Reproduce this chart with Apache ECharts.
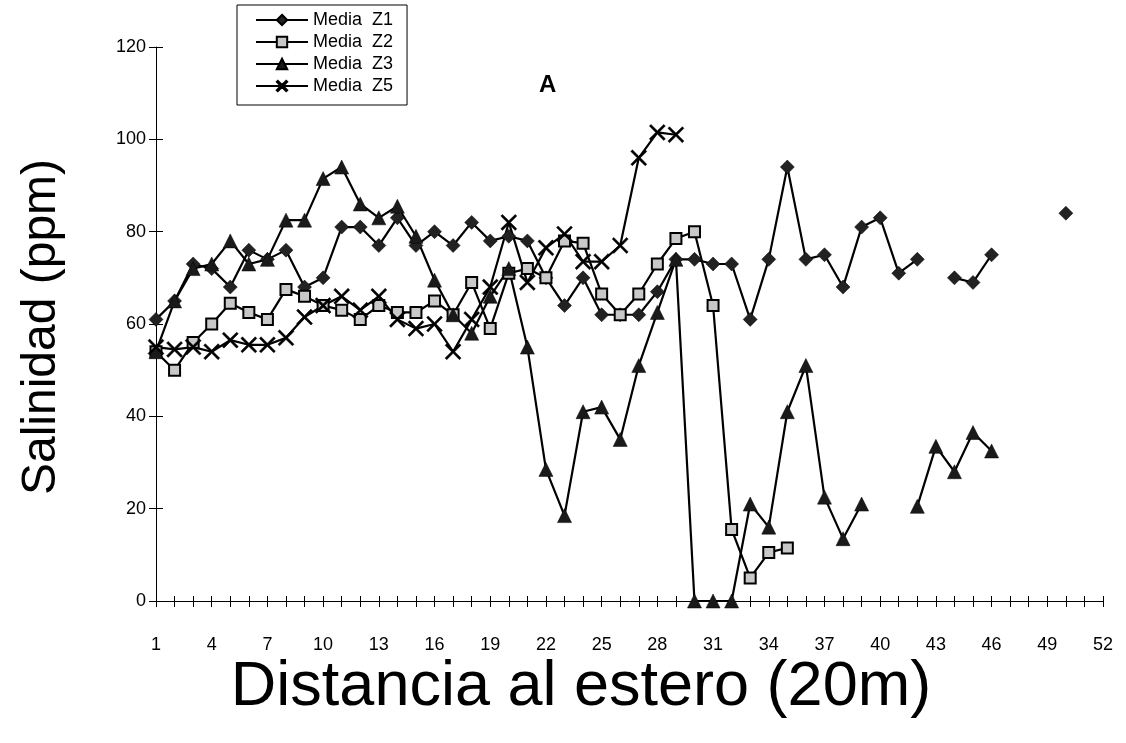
<!DOCTYPE html>
<html>
<head>
<meta charset="utf-8">
<script src="https://cdn.jsdelivr.net/npm/echarts@6/dist/echarts.min.js"></script>
<style>
html,body{margin:0;padding:0;background:#fff;}
#c{width:1126px;height:743px;}
</style>
</head>
<body>
<div id="c"></div>
<script>
var categories = [];
for (var k = 1; k <= 52; k++) categories.push(String(k));

var mediaZ1 = [61,65,73,72,68,76,74,76,68,70, 81,81,77,83,77,80,77,82,78,79, 78,70,64,70,62,62,62,67,74,74, 73,73,61,74,94,74,75,68,81,83, 71,74,null,70,69,75,null,null,null,84, null,null];
var mediaZ2 = [54,50,56,60,64.5,62.5,61,67.5,66,64, 63,61,64,62.5,62.5,65,62,69,59,71, 72,70,78,77.5,66.5,62,66.5,73,78.5,80, 64,15.5,5,10.5,11.5];
var mediaZ3 = [54,65,72,73,78,73,74,82.5,82.5,91.5, 94,86,83,85.5,79,69.5,62,58,66,72, 55,28.5,18.5,41,42,35,51,62.5,74,0, 0,0,21,16,41,51,22.5,13.5,21,null, null,20.5,33.5,28,36.5,32.5];
var mediaZ5 = [55,54.5,55,54,56.5,55.5,55.5,57,61.5,64, 66,63,66,61,59,60,54,61,68,82, 69,76.5,79.5,73.5,73.5,77,96,101.5,101];
var seriesNames = ['Media  Z1','Media  Z2','Media  Z3','Media  Z5'];
var yTicks = [0,20,40,60,80,100,120];

var FONT = '"Liberation Sans", Arial, sans-serif';
var crossPath = 'path://M0,1L1,0L5,4L9,0L10,1L6,5L10,9L9,10L5,6L1,10L0,9L4,5Z';

function mk(name, data, symbol, size, fill) {
  return {
    name: name, type: 'line', data: data, connectNulls: false,
    symbol: symbol, symbolSize: size, showAllSymbol: true,
    lineStyle: {color: '#000', width: 2.2},
    itemStyle: {color: fill, borderColor: '#000', borderWidth: symbol === 'rect' ? 2 : 0.5},
    emphasis: {disabled: true},
    z: 3
  };
}

var chart = echarts.init(document.getElementById('c'), null, {renderer: 'canvas'});
chart.setOption({
  animation: false,
  backgroundColor: '#fff',
  grid: {left: 156, right: 23, top: 47, bottom: 142, containLabel: false},
  legend: {
    show: true, orient: 'vertical', left: 237, top: 5,
    itemWidth: 52, itemHeight: 13, itemGap: 4,
    padding: [6, 14, 10, 18],
    borderColor: '#000', borderWidth: 1, backgroundColor: '#fff',
    textStyle: {fontFamily: FONT, fontSize: 18, color: '#000'},
    data: seriesNames
  },
  xAxis: [{
    type: 'category', data: categories, boundaryGap: false,
    axisLine: {lineStyle: {color: '#000', width: 1}},
    axisTick: {show: true, interval: 0, length: 6, lineStyle: {color: '#000'}},
    axisLabel: {interval: 2, margin: 35, fontFamily: FONT, fontSize: 18, color: '#000'},
    splitLine: {show: false}
  }, {
    type: 'category', data: categories, boundaryGap: false, position: 'bottom',
    axisLine: {show: false},
    axisTick: {show: true, inside: true, interval: 0, length: 5, lineStyle: {color: '#000'}},
    axisLabel: {show: false},
    splitLine: {show: false}
  }],
  yAxis: [{
    type: 'value', min: 0, max: 120, interval: 20,
    axisLine: {show: true, lineStyle: {color: '#000', width: 1}},
    axisTick: {show: true, length: 7, lineStyle: {color: '#000'}},
    axisLabel: {margin: 10, fontFamily: FONT, fontSize: 18, color: '#000',
      formatter: function (v) { return yTicks.indexOf(v) >= 0 ? String(v) : ''; }},
    splitLine: {show: false}
  }, {
    type: 'value', min: 0, max: 120, interval: 20, position: 'left',
    axisLine: {show: false},
    axisTick: {show: true, inside: true, length: 7, lineStyle: {color: '#000'}},
    axisLabel: {show: false},
    splitLine: {show: false}
  }],
  series: [
    mk(seriesNames[0], mediaZ1, 'diamond', 14, '#222'),
    mk(seriesNames[1], mediaZ2, 'rect', 11, '#c8c8c8'),
    mk(seriesNames[2], mediaZ3, 'triangle', 14, '#1a1a1a'),
    mk(seriesNames[3], mediaZ5, crossPath, 16, '#000')
  ],
  graphic: [
    {type: 'text', left: 539, top: 73, style: {text: 'A', font: 'bold 24px ' + FONT, fill: '#000'}},
    {type: 'text', x: 581, y: 688, style: {text: 'Distancia al estero (20m)', font: '63px ' + FONT, fill: '#000', align: 'center', verticalAlign: 'middle'}},
    {type: 'text', x: 42, y: 327, rotation: Math.PI / 2, style: {text: 'Salinidad (ppm)', font: '48px ' + FONT, fill: '#000', align: 'center', verticalAlign: 'middle'}}
  ]
});
</script>
</body>
</html>
